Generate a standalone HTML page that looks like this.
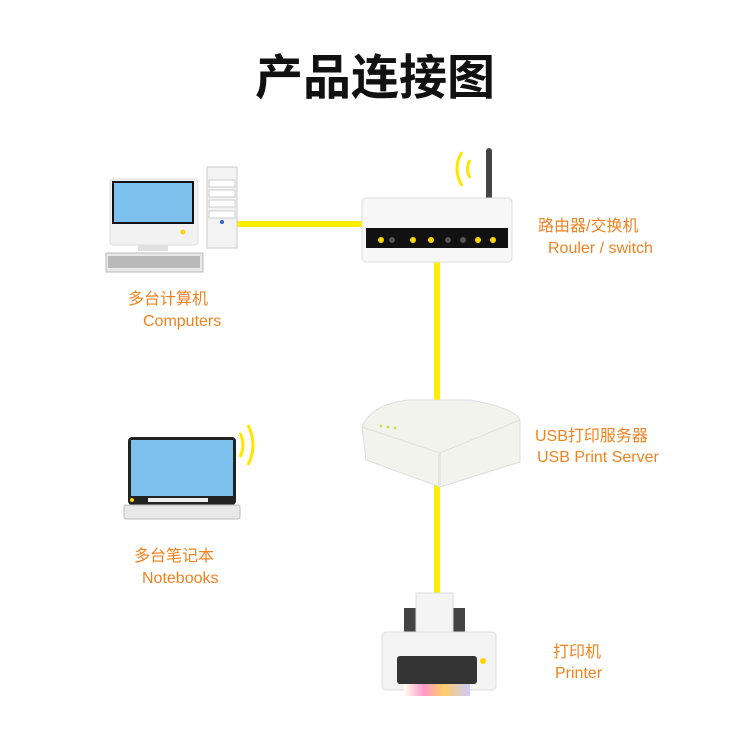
<!DOCTYPE html>
<html><head><meta charset="utf-8"><style>
body{margin:0;background:#fff}
svg{display:block}
.t{font-family:"Liberation Sans","Noto Sans CJK SC",sans-serif;fill:#f0821e;font-size:16px}
</style></head><body>
<svg width="750" height="750" viewBox="0 0 750 750">
<text x="375" y="94" text-anchor="middle" font-family="Liberation Sans,'Noto Sans CJK SC',sans-serif" font-weight="bold" font-size="48" fill="#111">产品连接图</text>
<!-- lines -->
<rect x="237" y="221" width="128" height="6" fill="#ffee00"/>
<rect x="434" y="262" width="6" height="340" fill="#ffee00"/>
<!-- monitor -->
<rect x="110" y="179" width="88" height="66" rx="3" fill="#f2f2f2" stroke="#ddd"/>
<rect x="112" y="181" width="82" height="43" fill="#111"/>
<rect x="114" y="183" width="78" height="39" fill="#7cc0ee"/>
<rect x="138" y="245" width="30" height="6" fill="#e0e0e0"/>
<rect x="106" y="253" width="97" height="19" fill="#e8e8e8" stroke="#bbb"/>
<rect x="108" y="256" width="92" height="12" fill="#999" opacity=".6"/>
<circle cx="183" cy="232" r="2.5" fill="#ffd400"/>
<!-- tower -->
<rect x="207" y="167" width="30" height="81" fill="#f3f3f3" stroke="#ccc"/>
<rect x="209" y="180" width="26" height="7" fill="#fff" stroke="#ccc"/>
<rect x="209" y="190" width="26" height="7" fill="#fff" stroke="#ccc"/>
<rect x="209" y="200" width="26" height="7" fill="#fff" stroke="#ccc"/>
<rect x="209" y="211" width="26" height="7" fill="#fff" stroke="#ccc"/>
<circle cx="222" cy="222" r="2" fill="#36c"/>
<!-- router -->
<rect x="486" y="148" width="6" height="52" rx="3" fill="#444"/>
<path d="M462 152 Q452 168 462 186" stroke="#ffe600" stroke-width="3" fill="none"/>
<path d="M470 160 Q465 169 470 178" stroke="#ffe600" stroke-width="3" fill="none"/>
<rect x="362" y="198" width="150" height="64" rx="4" fill="#f7f7f7" stroke="#ddd"/>
<rect x="366" y="228" width="142" height="20" fill="#111"/>
<g fill="#ffd400"><circle cx="381" cy="240" r="3"/><circle cx="392" cy="240" r="3" fill="#555"/><circle cx="413" cy="240" r="3"/><circle cx="431" cy="240" r="3"/><circle cx="448" cy="240" r="3" fill="#555"/><circle cx="463" cy="240" r="3" fill="#555"/><circle cx="478" cy="240" r="3"/><circle cx="493" cy="240" r="3"/></g>
<!-- print server -->
<path d="M362 427 Q370 405 408 400 L470 400 Q515 408 520 420 L520 462 L440 487 L366 460 Z" fill="#f3f3ee" stroke="#ddd"/>
<path d="M362 427 L440 453 L520 420" stroke="#e0e0da" fill="none"/>
<rect x="438" y="453" width="3" height="34" fill="#e6e6e0"/>
<g fill="#cde05a"><circle cx="381" cy="426" r="1.5"/><circle cx="388" cy="427" r="1.5"/><circle cx="395" cy="428" r="1.5"/></g>
<!-- laptop -->
<path d="M248 425 Q258 445 248 465" stroke="#ffe600" stroke-width="3" fill="none"/>
<path d="M240 433 Q246 445 240 457" stroke="#ffe600" stroke-width="3" fill="none"/>
<rect x="128" y="437" width="108" height="68" rx="4" fill="#222"/>
<rect x="131" y="440" width="102" height="56" fill="#7cc0ee"/>
<rect x="148" y="498" width="60" height="4" fill="#eee"/>
<rect x="124" y="505" width="116" height="14" rx="2" fill="#e8e8e8" stroke="#bbb"/>
<circle cx="132" cy="500" r="2" fill="#ffd400"/>
<!-- printer -->
<rect x="404" y="608" width="12" height="28" fill="#444"/>
<rect x="453" y="608" width="12" height="28" fill="#444"/>
<rect x="416" y="593" width="37" height="45" fill="#f4f4f4" stroke="#ddd"/>
<rect x="382" y="632" width="114" height="58" rx="4" fill="#f3f3f3" stroke="#ddd"/>
<rect x="397" y="656" width="80" height="28" rx="3" fill="#333"/>
<defs><linearGradient id="g" x1="0" x2="1"><stop offset="0" stop-color="#ffe"/><stop offset=".3" stop-color="#f9c"/><stop offset=".6" stop-color="#fc6"/><stop offset="1" stop-color="#ccf"/></linearGradient></defs>
<rect x="404" y="684" width="66" height="12" fill="url(#g)"/>
<circle cx="483" cy="661" r="3" fill="#ffd400"/>
<!-- labels -->
<text class="t" x="538" y="231">路由器/交换机</text>
<text class="t" x="548" y="253">Rouler / switch</text>
<text class="t" x="128" y="304">多台计算机</text>
<text class="t" x="143" y="326">Computers</text>
<text class="t" x="535" y="441">USB打印服务器</text>
<text class="t" x="537" y="462">USB Print Server</text>
<text class="t" x="134" y="561">多台笔记本</text>
<text class="t" x="142" y="583">Notebooks</text>
<text class="t" x="553" y="657">打印机</text>
<text class="t" x="555" y="678">Printer</text>
</svg>
</body></html>
